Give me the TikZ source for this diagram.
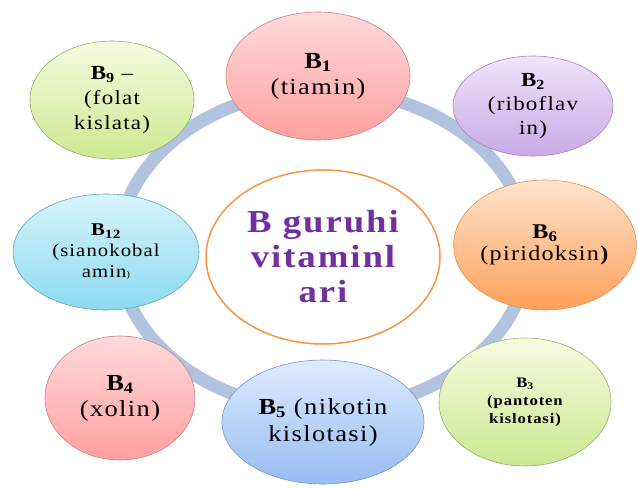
\documentclass[tikz,border=0pt]{standalone}
\usepackage{fontspec}
\setmainfont{Liberation Serif}
\newfontfamily\vitfont{Liberation Serif}[Ligatures=TeX, LetterSpace=6, FakeStretch=1.15]
\definecolor{ringblue}{RGB}{178, 195, 224}
\definecolor{vitpurple}{RGB}{112, 48, 160}
\definecolor{centerorange}{RGB}{245, 150, 70}
\definecolor{pinktop}{RGB}{255, 218, 218}
\definecolor{pinkbot}{RGB}{255, 160, 160}
\definecolor{lilactop}{RGB}{240, 228, 250}
\definecolor{lilacbot}{RGB}{200, 170, 230}
\definecolor{orangetop}{RGB}{255, 228, 205}
\definecolor{orangebot}{RGB}{255, 160, 90}
\definecolor{limetop}{RGB}{245, 252, 225}
\definecolor{limebot}{RGB}{205, 232, 145}
\definecolor{bluetop}{RGB}{222, 236, 255}
\definecolor{bluebot}{RGB}{150, 188, 242}
\definecolor{cyantop}{RGB}{215, 244, 252}
\definecolor{cyanbot}{RGB}{140, 218, 240}
\usepackage{tikz}
\usetikzlibrary{shapes, positioning, calc}

\begin{document}
\begin{tikzpicture}[x=1pt, y=-1pt,
  vnode/.style={draw, ellipse, inner sep=0pt, align=center, line width=0.6pt},
  fsize/.style 2 args={font=\vitfont\fontsize{#1}{#2}\selectfont},
  fbold/.style 2 args={font=\vitfont\bfseries\fontsize{#1}{#2}\selectfont},
  ring/.style={draw=ringblue, line width=13pt}
]
  \useasboundingbox (0,0) rectangle (638,490);

  % background ring
  \draw[ring] (323,250) ellipse [x radius=205, y radius=160];

  % centre
  \node[draw=centerorange, line width=1.5pt, fill=white, ellipse, minimum width=234pt,
    minimum height=174pt, inner sep=0pt, align=center, text=vitpurple,
    fbold={32}{35}] (C) at (323,257)
    {B guruhi\\vitaminl\\ari};

  % vitamins
  \node[vnode, fsize={23}{26}, draw=pinkbot!80!black, top color=pinktop, bottom color=pinkbot,
    minimum width=184pt, minimum height=128pt] (B1) at (318,76)
    {\textbf{B\textsubscript{1}}\\(tiamin)};
  \node[vnode, fsize={20}{24}, draw=lilacbot!80!black, top color=lilactop, bottom color=lilacbot,
    minimum width=160pt, minimum height=100pt] (B2) at (533,106)
    {\textbf{B\textsubscript{2}}\\(riboflav\\in)};
  \node[vnode, fsize={21}{22}, draw=orangebot!90!black, top color=orangetop, bottom color=orangebot,
    minimum width=180pt, minimum height=130pt] (B6) at (545,245)
    {\textbf{B\textsubscript{6}}\\(piridoksin\textbf{)}};
  \node[vnode, fbold={14.5}{18}, draw=limebot!75!black, top color=limetop,
    bottom color=limebot, minimum width=172pt, minimum height=128pt] (B3) at (525,402)
    {B\textsubscript{3}\\(pantoten\\kislotasi)};
  \node[vnode, fsize={23}{27}, draw=bluebot!80!black, top color=bluetop, bottom color=bluebot,
    minimum width=202pt, minimum height=124pt] (B5) at (323,422)
    {\textbf{B\textsubscript{5}} (nikotin\\kislotasi)};
  \node[vnode, fsize={23}{26}, draw=pinkbot!80!black, top color=pinktop, bottom color=pinkbot,
    minimum width=150pt, minimum height=124pt] (B4) at (120,398)
    {\textbf{B\textsubscript{4}}\\(xolin)};
  \node[vnode, fsize={18}{21}, draw=cyanbot!75!black, top color=cyantop, bottom color=cyanbot,
    minimum width=186pt, minimum height=116pt] (B12) at (106,252)
    {\textbf{B\textsubscript{12}}\\(sianokobal\\amin{\small)}};
  \node[vnode, fsize={20}{25}, draw=limebot!75!black, top color=limetop, bottom color=limebot,
    minimum width=164pt, minimum height=118pt] (B9) at (112,100)
    {\textbf{B\textsubscript{9}} --\\(folat\\kislata)};
\end{tikzpicture}
\end{document}
